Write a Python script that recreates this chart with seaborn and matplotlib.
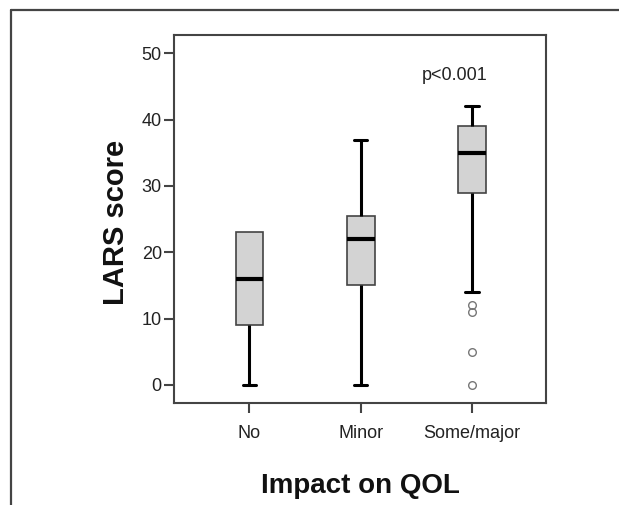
import numpy as np
import pandas as pd
import matplotlib
matplotlib.use("Agg")
import matplotlib.pyplot as plt
from matplotlib.lines import Line2D
import seaborn as sns

# ---- data ----
categories = ["No", "Minor", "Some/major"]
no_vals = [0, 9, 16, 23, 23]
minor_vals = [0, 15, 22, 25.5, 37]
some_vals = [0, 5, 11, 12, 14, 29, 30, 31, 33, 34, 35, 36, 37, 38, 38, 39,
             40, 40, 41, 41, 42]
y_ticks = [0, 10, 20, 30, 40, 50]
p_text = "p<0.001"

df = pd.DataFrame({
    "impact": (["No"] * len(no_vals) + ["Minor"] * len(minor_vals)
               + ["Some/major"] * len(some_vals)),
    "lars": no_vals + minor_vals + some_vals,
})

sns.set_style("white")
plt.rcParams["font.family"] = ["Liberation Sans", "DejaVu Sans"]

fig = plt.figure(figsize=(6.19, 5.05), dpi=100)
ax = fig.add_axes([0.2816, 0.2026, 0.6004, 0.7281])

edge = "#444444"
sns.boxplot(
    data=df, x="impact", y="lars", order=categories, ax=ax,
    width=0.25, color="#d3d3d3", saturation=1, linecolor=edge,
    linewidth=1.2, whis=1.5,
    medianprops=dict(color="black", linewidth=3.0),
    whiskerprops=dict(color="black", linewidth=2.2),
    capprops=dict(color="black", linewidth=2.2),
    flierprops=dict(marker="o", markerfacecolor="none",
                    markeredgecolor="#777777", markersize=5.5,
                    markeredgewidth=1.0),
)

# a cap that coincides with the box edge (zero-length whisker) is not shown
q3_no = float(np.percentile(no_vals, 75))
for ln in ax.lines:
    xd = np.asarray(ln.get_xdata(), dtype=float)
    yd = np.asarray(ln.get_ydata(), dtype=float)
    if len(yd) == 2 and yd[0] == yd[1] and abs(yd[0] - max(no_vals)) < 1e-9 \
            and max(no_vals) == q3_no and np.all(np.abs(xd) < 0.3):
        ln.set_visible(False)

# narrower caps, like the reference
for ln in ax.lines:
    xd = np.asarray(ln.get_xdata(), dtype=float)
    yd = np.asarray(ln.get_ydata(), dtype=float)
    if len(xd) == 2 and yd[0] == yd[1] and ln.get_color() == "black" \
            and ln.get_linewidth() == 2.2:
        c = xd.mean()
        ln.set_xdata([c - 0.06, c + 0.06])

ax.set_xlim(-0.675, 2.665)
ax.set_ylim(-2.67, 52.76)
ax.set_yticks(y_ticks)

for s in ax.spines.values():
    s.set_visible(True)
    s.set_color(edge)
    s.set_linewidth(1.5)

ax.tick_params(axis="both", which="both", direction="out", length=7,
               width=1.5, color=edge, labelsize=13, labelcolor="#222222")
ax.tick_params(axis="y", pad=2, left=True)
ax.tick_params(axis="x", pad=9, bottom=True)

ax.set_xlabel("Impact on QOL", fontsize=20, fontweight="bold", color="#111111")
ax.set_ylabel("LARS score", fontsize=21, fontweight="bold", color="#111111")
ax.xaxis.set_label_coords(0.501, -0.19)
ax.yaxis.set_label_coords(-0.12, 0.49)

ax.text(1.846, 46.7, p_text, ha="center", va="center", fontsize=13,
        color="#222222")

# figure frame (top and left edges, as in the reference crop)
fx = 11 / 619
fy = 1 - 10 / 505
fig.add_artist(Line2D([fx, 1.0], [fy, fy], transform=fig.transFigure,
                      color=edge, linewidth=1.6))
fig.add_artist(Line2D([fx, fx], [0.0, fy], transform=fig.transFigure,
                      color=edge, linewidth=1.6))

fig.savefig("out.png", dpi=100)
